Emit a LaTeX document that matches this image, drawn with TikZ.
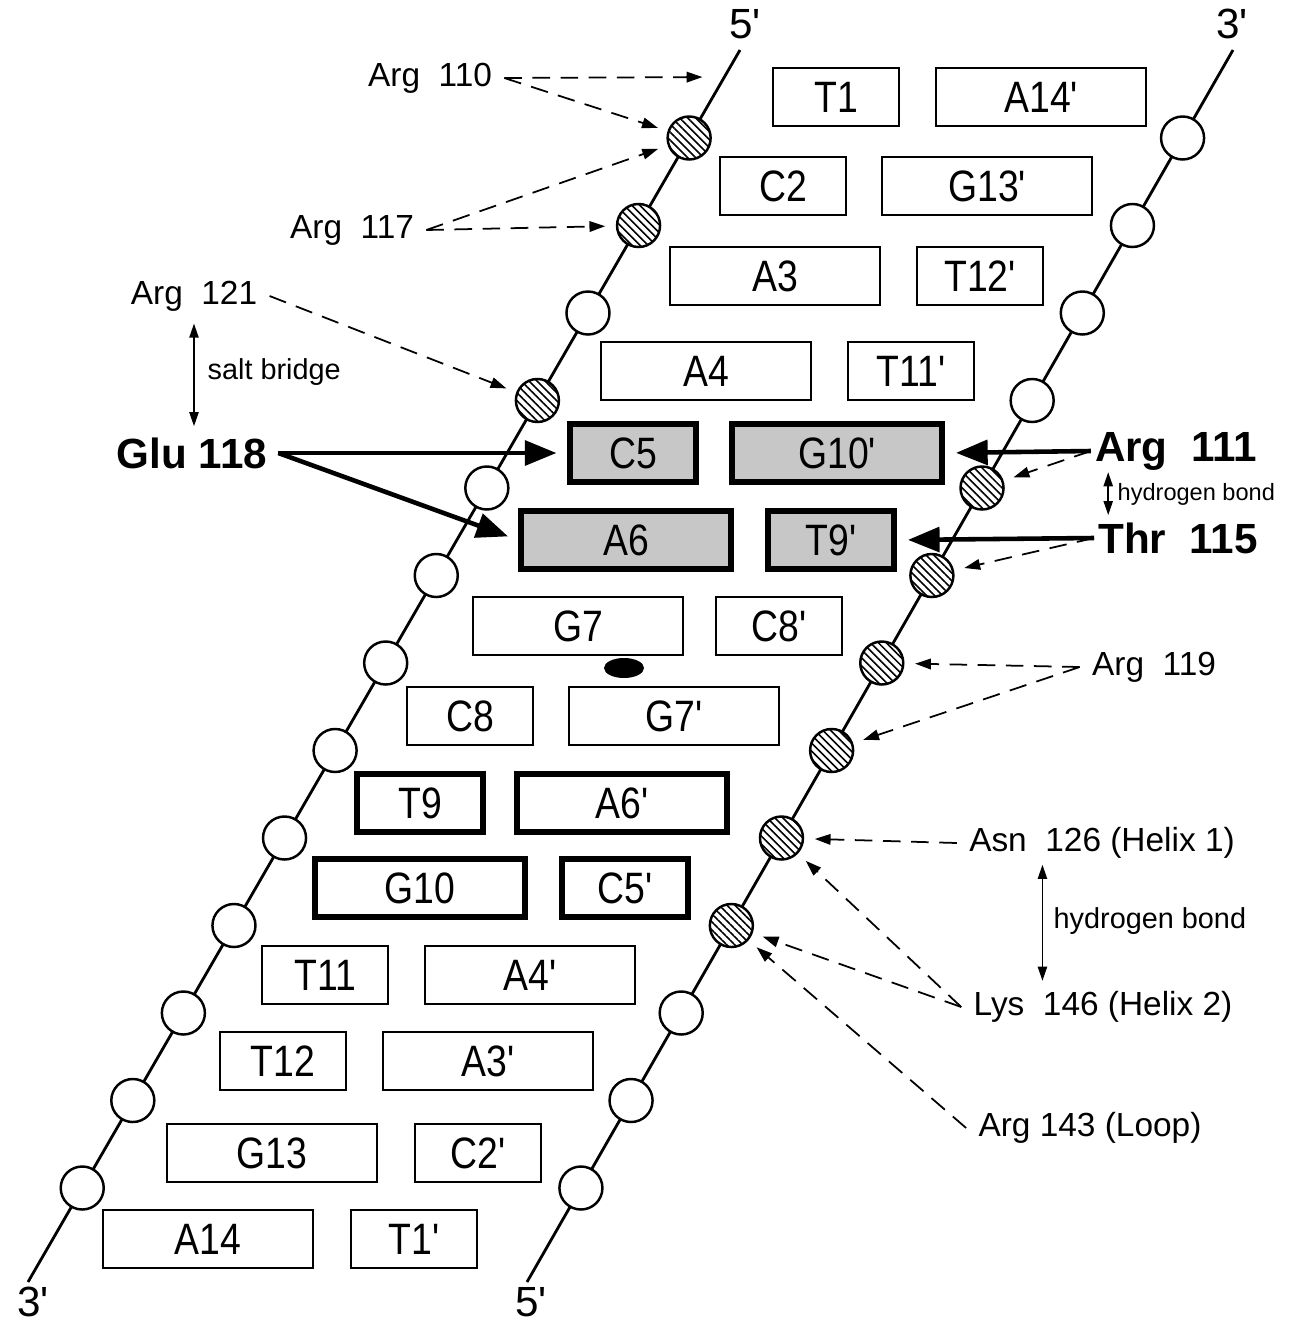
\documentclass[tikz,border=0pt]{standalone}
\usepackage{fontspec}
\newfontfamily\hv{Liberation Sans}
\newfontfamily\hvn{Liberation Sans}[FakeStretch=0.85]
\usetikzlibrary{arrows.meta,patterns.meta}

\begin{document}
\begin{tikzpicture}[x=0.01cm,y=-0.01cm,
    strand/.style={line width=0.8pt},
    pho/.style={circle,draw,line width=0.7pt,fill=white,minimum size=0.43cm,inner sep=0pt},
    hat/.style={pho,preaction={fill=white},pattern={Lines[angle=-45,distance=1.6pt,line width=0.45pt]}},
    bp/.style={draw,line width=0.6pt,minimum height=0.58cm,inner sep=0pt,anchor=west,font=\hvn\fontsize{12.5}{14}\selectfont},
    pu/.style={bp,minimum width=2.1cm},
    py/.style={bp,minimum width=1.26cm},
    hit/.style={line width=1.8pt},
    gr/.style={hit,fill=black!22},
    lab/.style={font=\hv\fontsize{9.5}{11}\selectfont},
    big/.style={font=\hv\bfseries\fontsize{12}{14}\selectfont,inner sep=1pt},
    note/.style={font=\hv\fontsize{8.2}{10}\selectfont,anchor=west,inner sep=0pt},
    tiny/.style={font=\hv\fontsize{6.7}{8}\selectfont,anchor=west,inner sep=0pt},
    endlbl/.style={font=\hv\fontsize{12}{14}\selectfont,inner sep=0pt},
    weak/.style={-{Triangle[length=4.5pt,width=3pt]},line width=0.5pt,dash pattern=on 5pt off 3pt,shorten >=3pt},
    strong/.style={-{Triangle[length=9pt,width=7pt]},line width=1.3pt,shorten >=3pt},
    bond/.style={{Triangle[length=4pt,width=2.6pt]}-{Triangle[length=4pt,width=2.6pt]},line width=0.5pt}
  ]
  \path[use as bounding box,fill=white] (0,0) rectangle (1297,1324);

  % backbones
  \node[endlbl] (top5) at (745,24) {5'};
  \node[endlbl] (top3) at (1232,24) {3'};
  \node[endlbl] (bot3) at (33,1302) {3'};
  \node[endlbl] (bot5) at (531,1302) {5'};
  \coordinate (la) at (740,50); \coordinate (lb) at (28,1282);
  \coordinate (ra) at (1233,50); \coordinate (rb) at (527,1282);
  \draw[strand] (la) -- (lb);
  \draw[strand] (ra) -- (rb);
  \foreach \k/\sl/\sr in {0/hat/pho,1/hat/pho,2/pho/pho,3/hat/pho,4/pho/hat,5/pho/hat,6/pho/hat,
      7/pho/hat,8/pho/hat,9/pho/hat,10/pho/pho,11/pho/pho,12/pho/pho}{
    \pgfmathsetmacro\yy{138+87.5*\k}
    \pgfmathsetmacro\xl{740-0.578*(\yy-50)}
    \pgfmathsetmacro\xr{1233-0.573*(\yy-50)}
    \node[\sl] (pl\k) at (\xl,\yy) {};
    \node[\sr] (pr\k) at (\xr,\yy) {};
  }

  % base pairs
  \node[py] (T1) at (772,97) {T1};
  \node[pu] (A14p) at (935,97) {A14'};
  \node[py] (C2) at (719,186) {C2};
  \node[pu] (G13p) at (881,186) {G13'};
  \node[pu] (A3) at (669,276) {A3};
  \node[py] (T12p) at (916,276) {T12'};
  \node[pu] (A4) at (600,371) {A4};
  \node[py] (T11p) at (847,371) {T11'};
  \node[py,gr] (C5) at (567,453) {C5};
  \node[pu,gr] (G10p) at (729,453) {G10'};
  \node[pu,gr] (A6) at (518,540) {A6};
  \node[py,gr] (T9p) at (765,540) {T9'};
  \node[pu] (G7) at (472,626) {G7};
  \node[py] (C8p) at (715,626) {C8'};
  \node[py] (C8) at (406,716) {C8};
  \node[pu] (G7p) at (568,716) {G7'};
  \node[py,hit] (T9) at (354,803) {T9};
  \node[pu,hit] (A6p) at (514,803) {A6'};
  \node[pu,hit] (G10) at (312,888) {G10};
  \node[py,hit] (C5p) at (559,888) {C5'};
  \node[py] (T11) at (261,975) {T11};
  \node[pu] (A4p) at (424,975) {A4'};
  \node[py] (T12) at (219,1061) {T12};
  \node[pu] (A3p) at (382,1061) {A3'};
  \node[pu] (G13) at (166,1153) {G13};
  \node[py] (C2p) at (414,1153) {C2'};
  \node[pu] (A14) at (102,1239) {A14};
  \node[py] (T1p) at (350,1239) {T1'};
  \fill (624,668) ellipse [x radius=0.2cm,y radius=0.1cm];

  % protein contacts
  \node[lab] (arg110) at (430,78) {Arg~~110};
  \coordinate (tip110) at (713,77);
  \node[lab] (arg117) at (352,230) {Arg~~117};
  \node[lab] (arg121) at (194,296) {Arg~~121};
  \node[note] (salt) at (207,372) {salt bridge};
  \node[big,inner sep=3pt] (glu118) at (192,453) {Glu 118};
  \node[big] (arg111) at (1176,451) {Arg~~111};
  \node[tiny] (hb1) at (1117,494) {hydrogen bond};
  \node[big] (thr115) at (1178,538) {Thr~~115};
  \node[lab] (arg119) at (1154,667) {Arg~~119};
  \node[lab] (asn126) at (1102,843) {Asn~~126 (Helix 1)};
  \node[note] (hb2) at (1053,921) {hydrogen bond};
  \node[lab] (lys146) at (1103,1007) {Lys~~146 (Helix 2)};
  \node[lab] (arg143) at (1090,1128) {Arg 143 (Loop)};

  \draw[weak] (arg110.east) -- (tip110);
  \draw[weak] (arg110.east) -- (pl0);
  \draw[weak] (arg117.east) -- (pl0);
  \draw[weak] (arg117.east) -- (pl1);
  \draw[weak] (arg121.east) -- (pl3);
  \draw[bond] (arg121.south) -- (arg121.south |- glu118.north);
  \draw[strong] (glu118.east) -- (C5.west);
  \draw[strong] (glu118.east) -- (A6.west);
  \draw[strong] (arg111.west) -- (G10p.east);
  \draw[weak] (arg111.west) -- (pr4);
  \draw[bond] ([xshift=-2.5pt,yshift=6.2pt]hb1.west) -- ([xshift=-2.5pt,yshift=-6pt]hb1.west);
  \draw[strong] (thr115.west) -- (T9p.east);
  \draw[weak] (thr115.west) -- (pr5);
  \draw[weak] (arg119.west) -- (pr6);
  \draw[weak] (arg119.west) -- (pr7);
  \draw[weak] (asn126.west) -- (pr8);
  \draw[bond] ([xshift=-3pt,yshift=16pt]hb2.west) -- ([xshift=-3pt,yshift=-17pt]hb2.west);
  \draw[weak] (lys146.west) -- (pr8);
  \draw[weak] (lys146.west) -- (pr9);
  \draw[weak] (arg143.west) -- (pr9);
\end{tikzpicture}
\end{document}
